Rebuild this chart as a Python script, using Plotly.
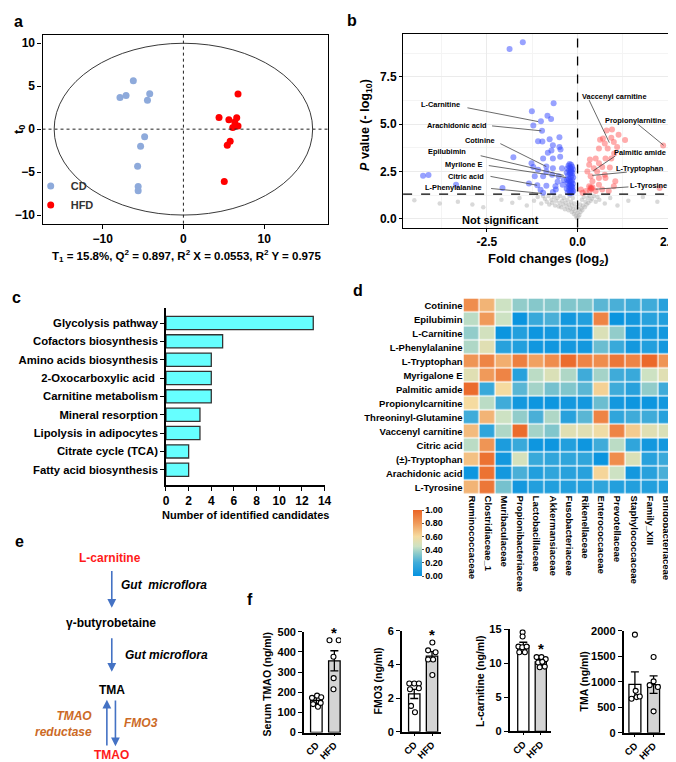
import plotly.graph_objects as go

W, H = 676, 762
FONT = "Liberation Sans, Arial, Helvetica, sans-serif"


def fx(p):
    return p / W


def fy(p):
    return 1 - p / H


# ---------------- (a) OPLS-DA score plot ----------------
cd_t1 = [-6.2, -7.85, -7.1, -4.17, -4.45, -4.8, -5.3, -5.67, -5.6, -5.6]
cd_to = [5.65, 3.7, 3.93, 4.12, 3.36, -0.88, -1.98, -4.31, -6.68, -7.18]
hfd_t1 = [6.76, 4.41, 5.63, 6.6, 6.36, 6.11, 6.76, 5.79, 5.43, 5.06]
hfd_to = [4.08, 1.37, 1.1, 1.34, 0.84, 0.19, 0.38, -1.41, -1.87, -6.1]

# ---------------- (b) volcano ----------------
down_fc = [-1.875, -1.51, -0.66, -1.26, -0.83, -0.73, -1.01, -1.22, -0.98, -0.50, -1.09, -0.97,
           -0.77, -0.68, -0.50, -0.47, -0.82, -0.72, -0.95, -0.68, -0.48, -1.77, -1.27, -1.22,
           -0.86, -1.09, -0.68, -0.43, -0.86, -0.70, -1.18, -0.95, -0.52, -4.26, -4.11, -2.07,
           -1.34, -1.11, -1.02, -0.86, -0.61, -0.41, -0.95, -0.68, -3.35, -0.55, -0.38, -0.60,
           -0.22, -0.18, -0.25, -0.15, -0.20, -0.28, -0.13, -0.23, -0.17, -0.30, -0.14, -0.21,
           -0.26, -0.16, -0.19, -0.12, -0.24, -0.29, -0.15, -0.20, -0.17, -0.27, -0.13, -0.22,
           -0.18, -0.25, -0.14, -0.20, -0.30, -0.16, -0.23, -0.12, -0.19, -0.27, -0.15, -0.21,
           -0.18, -0.24, -0.16, -0.20]
down_p = [8.98, 9.34, 6.11, 5.68, 5.45, 5.28, 5.16, 4.93, 4.65, 4.31, 4.10, 4.08,
          4.20, 3.89, 3.80, 3.66, 3.49, 3.61, 3.19, 3.19, 3.28, 3.25, 2.93, 2.73,
          2.76, 2.59, 2.67, 2.67, 2.50, 2.33, 2.24, 2.24, 2.24, 2.27, 2.31, 1.63,
          1.86, 1.77, 1.53, 1.75, 1.72, 1.80, 1.37, 1.41, 1.80, 1.95, 2.05, 1.55,
          2.90, 2.85, 2.80, 2.75, 2.70, 2.65, 2.62, 2.55, 2.50, 2.45, 2.42, 2.38,
          2.30, 2.28, 2.20, 2.18, 2.12, 2.05, 2.02, 1.98, 1.92, 1.88, 1.85, 1.80,
          1.75, 1.70, 1.66, 1.62, 1.58, 1.55, 1.50, 1.47, 1.44, 1.40, 1.38, 1.35,
          2.60, 2.00, 1.70, 2.45]
up_fc = [2.36, 2.26, 0.80, 0.95, 1.13, 0.62, 0.70, 0.93, 1.00, 1.31, 0.75, 0.83, 1.09, 0.59,
         1.01, 0.34, 0.50, 0.77, 0.93, 0.59, 0.32, 0.45, 0.68, 0.89, 0.27, 0.54, 0.75, 0.36,
         0.59, 0.77, 0.41, 0.59, 1.04, 1.00, 0.32, 0.37, 0.41, 0.34, 0.23, 0.14, 0.50, 0.68,
         0.86, 0.09, 0.39, 0.36]
up_p = [3.87, 1.63, 4.67, 4.72, 4.44, 4.18, 4.24, 4.29, 4.06, 4.17, 3.98, 3.72, 3.80, 3.72,
        3.45, 3.13, 3.19, 3.19, 3.19, 2.93, 2.85, 2.67, 2.73, 2.71, 2.50, 2.50, 2.33, 2.24,
        2.15, 2.15, 1.98, 1.80, 1.98, 1.72, 1.72, 1.60, 1.67, 1.49, 1.46, 1.37, 1.46, 1.55,
        1.46, 1.55, 1.58, 1.65]
ns_fc = [-4.5, -3.8, -3.3, -2.9, -2.6, -2.1, -1.8, -1.6, -1.4, -1.2, -1.1, -1.0, -0.95, -0.9,
         -0.85, -0.8, -0.78, -0.72, -0.7, -0.65, -0.62, -0.6, -0.55, -0.52, -0.5, -0.48, -0.45,
         -0.42, -0.4, -0.38, -0.35, -0.33, -0.3, -0.28, -0.25, -0.24, -0.22, -0.2, -0.18, -0.16,
         -0.15, -0.13, -0.12, -0.1, -0.09, -0.07, -0.05, -0.04, -0.02, 0.0, 0.02, 0.03, 0.05,
         0.07, 0.08, 0.1, 0.12, 0.13, 0.15, 0.17, 0.2, 0.22, 0.25, 0.28, 0.3, 0.33, 0.36, 0.4,
         0.45, 0.5, 0.55, 0.6, 0.75, 0.9, 1.1, 1.4, 1.8, 2.2]
ns_p = [0.97, 0.8, 0.9, 0.75, 0.6, 1.0, 0.85, 1.1, 0.7, 0.95, 1.15, 0.8, 1.2, 1.05,
        0.9, 1.2, 0.75, 1.0, 0.85, 1.15, 0.7, 0.95, 1.1, 0.65, 0.85, 1.2, 0.6,
        0.95, 0.75, 1.1, 0.5, 0.85, 0.65, 1.0, 0.45, 0.75, 1.2, 0.55, 0.9, 0.35,
        0.7, 1.1, 0.5, 0.25, 0.8, 0.4, 0.15, 0.6, 0.05, 0.3, 0.1, 0.5, 0.2,
        0.75, 0.35, 0.55, 1.0, 0.45, 0.7, 1.15, 0.6, 0.9, 0.75, 1.1, 0.85, 1.2, 0.95, 1.05,
        1.2, 0.9, 1.15, 1.0, 0.8, 1.1, 0.7, 0.95, 1.15, 0.9]

# ---------------- (c) pathways ----------------
pathways = ["Glycolysis pathway", "Cofactors biosynthesis", "Amino acids biosynthesis",
            "2-Oxocarboxylic acid ", "Carnitine metabolism", "Mineral resorption",
            "Lipolysis in adipocytes", "Citrate cycle (TCA)", "Fatty acid biosynthesis"]
pathway_counts = [13, 5, 4, 4, 4, 3, 3, 2, 2]

# ---------------- (d) correlation heatmap ----------------
metabolites = ["Cotinine", "Epilubimin", "L-Carnitine", "L-Phenylalanine", "L-Tryptophan",
               "Myrigalone E", "Palmitic amide", "Propionylcarnitine", "Threoninyl-Glutamine",
               "Vaccenyl carnitine", "Citric acid", "(±)-Tryptophan", "Arachidonic acid",
               "L-Tyrosine"]
families = ["Ruminococcaceae", "Clostridiaceae_1", "Muribaculaceae", "Propionibacteriaceae",
            "Lactobacillaceae", "Akkermansiaceae", "Fusobacteriaceae", "Rikenellaceae",
            "Enterococcaceae", "Prevotellaceae", "Staphylococcaceae", "Family_XIII",
            "Bifidobacteriaceae"]
corr_values = [
    [0.85, 0.72, 0.45, 0.35, 0.33, 0.33, 0.32, 0.32, 0.25, 0.22, 0.20, 0.20, 0.12],
    [0.42, 0.80, 0.45, 0.02, 0.18, 0.22, 0.05, 0.10, 0.88, 0.02, 0.05, 0.12, 0.10],
    [0.35, 0.47, 0.02, 0.10, 0.03, 0.05, 0.08, 0.03, 0.50, 0.35, 0.05, 0.05, 0.05],
    [0.40, 0.52, 0.12, 0.10, 0.04, 0.04, 0.05, 0.05, 0.28, 0.18, 0.05, 0.10, 0.05],
    [0.82, 0.88, 0.74, 0.90, 0.78, 0.85, 0.97, 0.88, 0.85, 0.93, 0.88, 0.98, 0.82],
    [0.52, 0.80, 0.88, 0.12, 0.42, 0.50, 0.40, 0.20, 0.38, 0.20, 0.18, 0.45, 0.52],
    [0.97, 0.18, 0.60, 0.25, 0.38, 0.30, 0.32, 0.25, 0.63, 0.20, 0.12, 0.35, 0.20],
    [0.60, 0.42, 0.20, 0.05, 0.03, 0.03, 0.05, 0.05, 0.28, 0.05, 0.03, 0.03, 0.05],
    [0.20, 0.72, 0.45, 0.35, 0.22, 0.40, 0.12, 0.25, 0.88, 0.15, 0.20, 0.20, 0.12],
    [0.70, 0.15, 0.40, 0.97, 0.38, 0.32, 0.52, 0.52, 0.58, 0.88, 0.65, 0.52, 0.50],
    [0.42, 0.82, 0.08, 0.18, 0.03, 0.03, 0.10, 0.03, 0.20, 0.42, 0.15, 0.05, 0.05],
    [0.68, 0.95, 0.05, 0.48, 0.18, 0.15, 0.15, 0.15, 0.02, 0.85, 0.50, 0.12, 0.18],
    [0.03, 0.95, 0.05, 0.22, 0.10, 0.15, 0.12, 0.12, 0.62, 0.45, 0.05, 0.12, 0.22],
    [0.72, 0.93, 0.30, 0.05, 0.10, 0.10, 0.10, 0.10, 0.15, 0.10, 0.10, 0.10, 0.10],
]
colorbar_ticks = [0.0, 0.2, 0.4, 0.6, 0.8, 1.0]

# ---------------- (f) serum measurements ----------------
groups = ["CD", "HFD"]
tmao_mean = [160, 356]
tmao_sem = [15, 50]
tmao_cd = [172, 183, 175, 141, 128, 147]
tmao_hfd = [458, 458, 376, 270, 215]
fmo3_mean = [2.25, 4.5]
fmo3_sem = [0.27, 0.27]
fmo3_cd = [2.87, 2.87, 2.87, 2.53, 2.59, 1.54, 1.16]
fmo3_hfd = [5.31, 4.84, 4.73, 4.3, 4.3, 3.38]
lcar_mean = [12.58, 10.2]
lcar_sem = [0.5, 0.35]
lcar_cd = [14.53, 13.93, 12.44, 12.35, 12.44, 11.6, 11.6]
lcar_hfd = [10.9, 10.9, 10.6, 10.1, 10.2, 9.4, 9.5]
tma_mean = [950, 945]
tma_sem = [245, 170]
tma_cd = [1925, 823, 669, 700, 712]
tma_hfd = [1486, 1009, 935, 898, 421]

# dot spread (horizontal offsets of the dots, in bar units) - style only
spread = {
    "tmao": ([-0.24, 0.04, 0.27, -0.18, 0.09, 0.24], [-0.27, 0.24, -0.05, -0.04, -0.05]),
    "fmo3": ([-0.28, 0.0, 0.26, -0.24, 0.26, -0.18, 0.04], [0.02, -0.22, 0.2, -0.22, 0.06, 0.02]),
    "lcar": ([-0.04, -0.04, -0.28, -0.06, 0.19, -0.23, 0.09], [-0.24, 0.04, 0.28, -0.15, 0.09, -0.06, 0.23]),
    "tma": ([0.0, 0.04, -0.18, 0.09, 0.26], [0.0, 0.0, -0.21, 0.23, 0.0]),
}

fig = go.Figure()

# ---- (a)
fig.add_trace(go.Scatter(x=cd_t1, y=cd_to, mode="markers", name="<b>CD</b>",
                         marker=dict(color="#8eaadb", size=7), xaxis="x", yaxis="y"))
fig.add_trace(go.Scatter(x=hfd_t1, y=hfd_to, mode="markers", name="<b>HFD</b>",
                         marker=dict(color="#ff0000", size=7), xaxis="x", yaxis="y"))

# ---- (b)
fig.add_trace(go.Scatter(x=ns_fc, y=ns_p, mode="markers", showlegend=False,
                         marker=dict(color="rgba(170,170,170,0.45)", size=4.5),
                         xaxis="x2", yaxis="y2"))
fig.add_trace(go.Scatter(x=down_fc, y=down_p, mode="markers", showlegend=False,
                         marker=dict(color="rgba(50,70,255,0.5)", size=6),
                         xaxis="x2", yaxis="y2"))
fig.add_trace(go.Scatter(x=up_fc, y=up_p, mode="markers", showlegend=False,
                         marker=dict(color="rgba(255,70,70,0.45)", size=6),
                         xaxis="x2", yaxis="y2"))

# ---- (c)
fig.add_trace(go.Bar(x=pathway_counts, y=pathways, orientation="h", showlegend=False,
                     width=0.72,
                     marker=dict(color="#66ffff", line=dict(color="#333333", width=1.3)),
                     xaxis="x3", yaxis="y3"))

# ---- (d)
cscale = [[0.0, "#0592e0"], [0.2, "#3fabd9"], [0.33, "#86c8cb"], [0.45, "#cde2c3"],
          [0.6, "#f5dba0"], [0.8, "#f09a5a"], [1.0, "#ea6425"]]
fig.add_trace(go.Heatmap(z=corr_values, x=families, y=metabolites, colorscale=cscale,
                         zmin=0, zmax=1, xgap=1.2, ygap=1.2, xaxis="x4", yaxis="y4",
                         colorbar=dict(x=fx(408), xanchor="left", y=fy(537.5), yanchor="middle",
                                       lenmode="pixels", len=66, thickness=9, outlinewidth=0,
                                       tickvals=colorbar_ticks,
                                       ticktext=[f"{v:.2f}" for v in colorbar_ticks],
                                       ticks="outside", ticklen=2, tickcolor="#555",
                                       tickfont=dict(family=FONT, size=9, color="black", weight="bold"),
                                       ypad=0, xpad=0)))

# ---- (f)
f_sets = [
    ("5", tmao_mean, tmao_sem, tmao_cd, tmao_hfd, spread["tmao"]),
    ("6", fmo3_mean, fmo3_sem, fmo3_cd, fmo3_hfd, spread["fmo3"]),
    ("7", lcar_mean, lcar_sem, lcar_cd, lcar_hfd, spread["lcar"]),
    ("8", tma_mean, tma_sem, tma_cd, tma_hfd, spread["tma"]),
]
for k, means, sems, cdv, hfdv, (cdo, hfdo) in f_sets:
    fig.add_trace(go.Bar(x=[0, 1], y=means, width=0.64, showlegend=False,
                         marker=dict(color=["white", "#d4d4d4"], line=dict(color="black", width=1.3)),
                         error_y=dict(type="data", array=sems, color="black", thickness=1.3, width=4),
                         xaxis="x" + k, yaxis="y" + k))
    xs = [0 + o for o in cdo] + [1 + o for o in hfdo]
    fig.add_trace(go.Scatter(x=xs, y=cdv + hfdv, mode="markers", showlegend=False,
                             marker=dict(color="white", size=5, line=dict(color="black", width=1.1)),
                             xaxis="x" + k, yaxis="y" + k))

# ---------------- layout ----------------
tick_font = dict(family=FONT, size=12, color="black", weight="bold")
base = dict(showline=True, linecolor="black", linewidth=1.2, showgrid=False, zeroline=False,
            ticks="outside", tickcolor="black", ticklen=4, tickfont=tick_font)

layout = dict(
    width=W, height=H, margin=dict(l=0, r=0, t=0, b=0),
    paper_bgcolor="white", plot_bgcolor="white",
    font=dict(family=FONT, color="black"),
    showlegend=True,
    legend=dict(x=fx(20), y=fy(160), xanchor="left", yanchor="top", bgcolor="rgba(0,0,0,0)",
                font=dict(family=FONT, size=11, color="#333"), itemwidth=30, tracegroupgap=0),
)

layout["xaxis"] = dict(base, domain=[fx(32), fx(322)], range=[-17.44, 17.93], anchor="y",
                       mirror=True, tickvals=[-10, 0, 10])
layout["yaxis"] = dict(base, domain=[fy(213), fy(21)], range=[-11, 11], anchor="x",
                       mirror=True, tickvals=[-10, -5, 0, 5, 10])

layout["xaxis2"] = dict(base, domain=[fx(398), fx(673)], range=[-4.81, 2.66], anchor="y2",
                        mirror=True, tickvals=[-2.5, 0, 2.5], ticktext=["-2.5", "0.0", "2.5"],
                        showgrid=True, gridcolor="#ebebeb", gridwidth=1, ticklen=3,
                        minor=dict(dtick=1.25, tick0=0, showgrid=True, gridcolor="#f4f4f4", ticks=""))
layout["yaxis2"] = dict(base, domain=[fy(217), fy(20)], range=[-0.47, 9.79], anchor="x2",
                        mirror=True, tickvals=[0, 2.5, 5, 7.5], ticktext=["0.0", "2.5", "5.0", "7.5"],
                        showgrid=True, gridcolor="#ebebeb", gridwidth=1, ticklen=3,
                        minor=dict(dtick=1.25, tick0=0, showgrid=True, gridcolor="#f4f4f4", ticks=""))

layout["xaxis3"] = dict(base, domain=[fx(157.3), fx(318.3)], range=[0, 14], dtick=2, anchor="y3",
                        linewidth=1.5)
layout["yaxis3"] = dict(base, domain=[fy(478.3), fy(298.3)], range=[8.82, -0.84], anchor="x3",
                        type="category", categoryorder="array", categoryarray=pathways,
                        linewidth=1.5, ticklen=4,
                        tickfont=dict(family=FONT, size=11.3, color="black", weight="bold"))

layout["xaxis4"] = dict(domain=[fx(459.3), fx(673.3)], anchor="y4", showline=False, showgrid=False,
                        zeroline=False, ticks="", tickangle=90,
                        tickfont=dict(family=FONT, size=9.5, color="black", weight="bold"))
layout["yaxis4"] = dict(domain=[fy(488.3), fy(289)], anchor="x4", autorange="reversed",
                        showline=False, showgrid=False, zeroline=False, ticks="",
                        tickfont=dict(family=FONT, size=9.5, color="black", weight="bold"))

f_geom = {
    "5": ([297.3, 335.0], [-0.69, 1.37], [0, 500], [0, 100, 200, 300, 400, 500], [730.0, 627.7]),
    "6": ([396.7, 436.7], [-0.70, 1.52], [0, 6], [0, 2, 4, 6], [729.3, 626.7]),
    "7": ([506.0, 548.0], [-0.79, 1.58], [0, 15], [0, 5, 10, 15], [728.8, 625.0]),
    "8": ([621.7, 664.0], [-0.61, 1.62], [0, 2000], [0, 500, 1000, 1500, 2000], [730.3, 626.7]),
}
ffont = dict(family=FONT, size=11, color="black", weight="bold")
xfont = dict(family=FONT, size=9.5, color="black", weight="bold")
for k, (xd, xr, yr, yt, yd) in f_geom.items():
    layout["xaxis" + k] = dict(base, domain=[fx(xd[0]), fx(xd[1])], range=xr, anchor="y" + k,
                               tickvals=[0, 1], ticktext=groups, tickangle=-45, linewidth=1.5,
                               ticklen=2, tickfont=xfont)
    layout["yaxis" + k] = dict(base, domain=[fy(yd[0]), fy(yd[1])], range=yr, anchor="x" + k,
                               tickvals=yt, linewidth=1.5, ticklen=4, tickfont=ffont)

fig.update_layout(**layout)


# ---------------- annotations ----------------
def A(text, x, y, size, color="black", xa="center", ya="middle", angle=0, italic=False,
      bold=True, align="center"):
    t = text
    if italic:
        t = "<i>" + t + "</i>"
    if bold:
        t = "<b>" + t + "</b>"
    return dict(text=t, x=fx(x), y=fy(y), xref="paper", yref="paper", showarrow=False,
                xanchor=xa, yanchor=ya, textangle=angle, align=align,
                font=dict(family=FONT, size=size, color=color))


anns = []
# panel letters
for letter, lx, ly in [("a", 8, 8), ("b", 346, 7), ("c", 6, 288), ("d", 352, 281),
                       ("e", 9, 536), ("f", 243, 595)]:
    anns.append(A(letter, lx, ly, 16))

# (a) titles
anns.append(A("t<sub>0</sub>", 8, 117, 13, angle=-90))
anns.append(A("T<sub>1</sub> = 15.8%, Q<sup>2</sup> = 0.897, R<sup>2</sup> X = 0.0553, "
              "R<sup>2</sup> Y = 0.975", 178, 246, 11.5))

# (b) titles and labels
anns.append(A("<i>P</i> value (- log<sub>10</sub>)", 361, 113, 12.5, angle=-90))
anns.append(A("Fold changes (log<sub>2</sub>)", 546, 249, 13))
anns.append(A("Not significant", 496.7, 209.5, 11))

volcano_labels = [
    ("L-Carnitine", 436.3, 92.0, 463.3, 95.3, 535.0, 109.3),
    ("Arachidonic acid", 452.7, 113.0, 488.3, 113.7, 538.3, 118.7),
    ("Cotinine", 476.3, 129.0, 496.7, 131.7, 543.3, 155.0),
    ("Epilubimin", 442.3, 139.7, 476.7, 144.0, 561.0, 164.0),
    ("Myrilone E", 459.0, 153.3, 485.0, 154.0, 563.3, 166.0),
    ("Citric acid", 462.3, 164.7, 486.7, 165.0, 534.0, 174.0),
    ("L-Phenylalanine", 449.0, 176.3, 487.3, 177.3, 539.0, 182.3),
    ("Vaccenyl carnitine", 613.0, 83.7, 586.7, 87.3, 607.3, 130.7),
    ("Propionylarnitine", 633.7, 108.0, 636.7, 112.3, 662.3, 133.3),
    ("Palmitic amide", 638.0, 140.3, 613.3, 144.3, 591.0, 159.3),
    ("L-Tryptophan", 638.7, 156.7, 625.0, 160.7, 590.0, 164.0),
    ("L-Tyrosine", 647.3, 174.0, 626.7, 175.7, 593.3, 178.0),
]
shapes = []
for lab, tx, ty, x0, y0, x1, y1 in volcano_labels:
    anns.append(A(lab, tx, ty, 7.4))
    shapes.append(dict(type="line", xref="paper", yref="paper", x0=fx(x0), y0=fy(y0),
                       x1=fx(x1), y1=fy(y1), line=dict(color="#444444", width=0.8)))

# (c) axis title
anns.append(A("Number of identified candidates", 238, 509, 11))

# (e) pathway
RED = "#ff1a1a"
ORANGE = "#cc6a26"
anns.append(A("L-carnitine", 100, 552.3, 12, color=RED))
anns.append(A("Gut  microflora", 155, 580, 12, italic=True))
anns.append(A("γ-butyrobetaine", 101.7, 618.3, 12))
anns.append(A("Gut microflora", 158.3, 651.7, 12, italic=True))
anns.append(A("TMA", 102.3, 686.7, 12))
anns.append(A("TMAO<br>reductase", 84, 721.3, 12, color=ORANGE, italic=True, xa="right",
              align="right"))
anns.append(A("FMO3", 131.7, 720, 12, color=ORANGE, italic=True))
anns.append(A("TMAO", 102.3, 753.0, 12, color=RED))
BLUE = "#4472c4"
for hx, hy, ax, ay in [(102.3, 603.3, 0, -38.3), (102.3, 668.3, 0, -35.0),
                       (97.3, 696.7, 0, 47.3), (106.0, 744.0, 0, -47.3)]:
    anns.append(dict(text="", x=fx(hx), y=fy(hy), xref="paper", yref="paper", showarrow=True,
                     ax=ax, ay=ay, axref="pixel", ayref="pixel", arrowhead=2, arrowsize=1.1,
                     arrowwidth=1.6, arrowcolor=BLUE))

# (f) titles and stars
anns.append(A("Serum TMAO (ng/ml)", 260, 681, 10.5, angle=-90))
anns.append(A("FMO3 (ng/ml)", 372.7, 678, 10.5, angle=-90))
anns.append(A("L-carnitine (ng/ml)", 476.7, 678, 10.5, angle=-90))
anns.append(A("TMA (ng/ml)", 581.7, 678, 10.5, angle=-90))
anns.append(A("*", 328.3, 628, 15))
anns.append(A("*", 427.3, 630, 15))
anns.append(A("*", 537.7, 645, 15))

# (a) ellipse and dotted cross
shapes.append(dict(type="circle", xref="x", yref="y", x0=-16, x1=16, y0=-10, y1=10,
                   line=dict(color="#222222", width=0.9)))
shapes.append(dict(type="line", xref="x", yref="y domain", x0=0, x1=0, y0=0, y1=1,
                   line=dict(color="#222222", width=1, dash="dot")))
shapes.append(dict(type="line", xref="x domain", yref="y", x0=0, x1=1, y0=0, y1=0,
                   line=dict(color="#222222", width=1, dash="dot")))
# (b) dashed thresholds
shapes.append(dict(type="line", xref="x2", yref="y2 domain", x0=0, x1=0, y0=0, y1=1,
                   line=dict(color="black", width=1.3, dash="dash")))
shapes.append(dict(type="line", xref="x2 domain", yref="y2", x0=0, x1=1, y0=1.3, y1=1.3,
                   line=dict(color="black", width=1.3, dash="dash")))

fig.update_layout(annotations=anns, shapes=shapes)
fig.write_html("out.html")
